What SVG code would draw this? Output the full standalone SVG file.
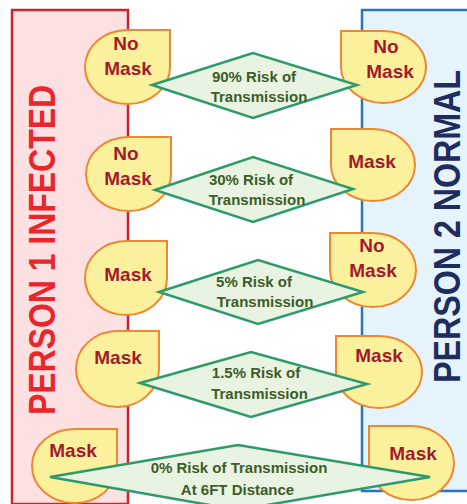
<svg xmlns="http://www.w3.org/2000/svg" width="467" height="504" viewBox="0 0 467 504">
<style>
.panel1{fill:#fde0e1;stroke:#c9252c;stroke-width:2.5}
.panel2{fill:#e5f4fc;stroke:#2b72c1;stroke-width:2.5}
.big{font-family:"Liberation Sans",Arial,sans-serif;font-weight:bold;font-size:37px;text-anchor:middle}
.drop{fill:#fbf19d;stroke:#ee8731;stroke-width:2}
.dt{font-family:"Liberation Sans",Arial,sans-serif;font-weight:bold;font-size:19px;fill:#a21b2b;text-anchor:middle}
.dia{fill:#e8f3e2;stroke:#2e9a6c;stroke-width:2.5;stroke-linejoin:miter}
.rt{font-family:"Liberation Sans",Arial,sans-serif;font-weight:bold;font-size:15px;fill:#3e5c28;text-anchor:middle}
</style>
<rect width="467" height="504" fill="#ffffff"/>
<g id="person1">
<rect class="panel1" x="12" y="10" width="116" height="494"/>
<text class="big" fill="#e8262b" transform="translate(55,250) rotate(-90)" textLength="330" lengthAdjust="spacingAndGlyphs">PERSON 1 INFECTED</text>
</g>
<g id="person2">
<rect class="panel2" x="362" y="10" width="110" height="481"/>
<text class="big" fill="#1f2c5e" transform="translate(460,226.5) rotate(-90)" textLength="313" lengthAdjust="spacingAndGlyphs">PERSON 2 NORMAL</text>
</g>
<g id="l1"><path class="drop" d="M170,30 L170,67 A42.5,37 0 1 1 127.5,30 Z"/><text class="dt" x="126" y="50">No</text><text class="dt" x="128" y="75">Mask</text></g>
<g id="l2"><path class="drop" d="M171,137 L171,174 A42.5,37 0 1 1 128.5,137 Z"/><text class="dt" x="126" y="160">No</text><text class="dt" x="128" y="185">Mask</text></g>
<g id="l3"><path class="drop" d="M167,241 L167,278 A41,37 0 1 1 126,241 Z"/><text class="dt" x="128" y="281">Mask</text></g>
<g id="l4"><path class="drop" d="M159,331 L159,369 A41.5,38 0 1 1 117.5,331 Z"/><text class="dt" x="118" y="364">Mask</text></g>
<g id="l5"><path class="drop" d="M117,429 L117,466 A42.5,37 0 1 1 74.5,429 Z"/><text class="dt" x="73" y="457">Mask</text></g>
<g id="r1"><path class="drop" d="M341,31 L383.5,31 A42.5,36 0 1 1 341,67 Z"/><text class="dt" x="386" y="53">No</text><text class="dt" x="390" y="78">Mask</text></g>
<g id="r2"><path class="drop" d="M331,129 L373,129 A42,36 0 1 1 331,165 Z"/><text class="dt" x="372" y="168">Mask</text></g>
<g id="r3"><path class="drop" d="M330,233 L373,233 A43,37 0 1 1 330,270 Z"/><text class="dt" x="372" y="252">No</text><text class="dt" x="373" y="277">Mask</text></g>
<g id="r4"><path class="drop" d="M336,336 L379,336 A43,36 0 1 1 336,372 Z"/><text class="dt" x="379" y="362">Mask</text></g>
<g id="r5"><path class="drop" d="M369,426 L411.5,426 A42.5,37 0 1 1 369,463 Z"/><text class="dt" x="413" y="460">Mask</text></g>
<g id="d1"><polygon class="dia" points="152,85 253,53 357,85 253,118"/><text class="rt" x="254" y="82">90% Risk of</text><text class="rt" x="259" y="102">Transmission</text></g>
<g id="d2"><polygon class="dia" points="155,190 253,157 353,189 253,222"/><text class="rt" x="251" y="185">30% Risk of</text><text class="rt" x="257" y="205">Transmission</text></g>
<g id="d3"><polygon class="dia" points="159,292 258,260 363,292 258,324"/><text class="rt" x="254" y="287">5% Risk of</text><text class="rt" x="265" y="307">Transmission</text></g>
<g id="d4"><polygon class="dia" points="140,383 251,352 367,384 251,417"/><text class="rt" x="256" y="378">1.5% Risk of</text><text class="rt" x="259.5" y="399">Transmission</text></g>
<g id="d5"><polygon class="dia" points="50,477 238,445 430,477 238,510"/><text class="rt" x="239" y="473">0% Risk of Transmission</text><text class="rt" x="237.5" y="495">At 6FT Distance</text></g>
<g id="connectors"></g>
</svg>
